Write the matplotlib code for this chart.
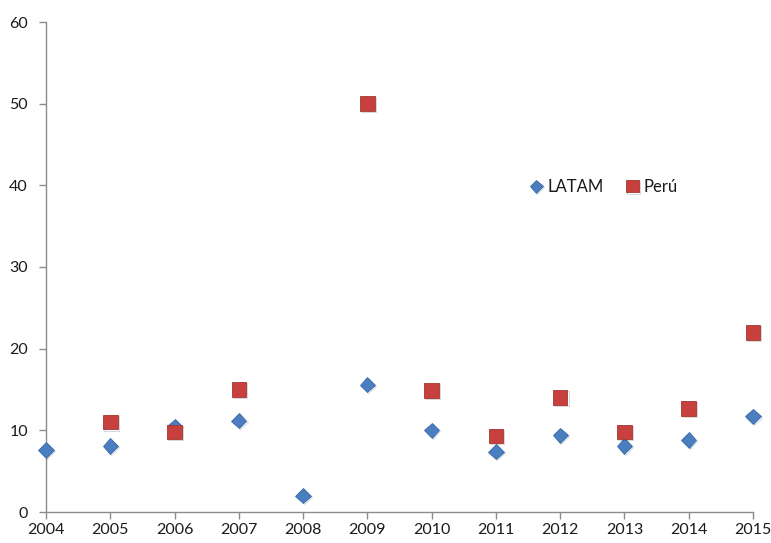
import matplotlib

matplotlib.use("Agg", force=True)
import matplotlib.pyplot as plt
import matplotlib.patheffects as pe

years = [2004, 2005, 2006, 2007, 2008, 2009, 2010, 2011, 2012, 2013, 2014, 2015]
latam = [7.6, 8.1, 10.5, 11.2, 2.0, 15.6, 10.0, 7.4, 9.4, 8.1, 8.8, 11.7]
peru_years = [2005, 2006, 2007, 2009, 2010, 2011, 2012, 2013, 2014, 2015]
peru = [11.0, 9.8, 15.0, 50.0, 14.9, 9.3, 14.0, 9.8, 12.7, 22.0]

plt.rcParams["font.family"] = ["Lato", "DejaVu Sans"]

fig = plt.figure(figsize=(7.71, 5.43), dpi=100)
ax = fig.add_axes([46 / 771, 31 / 543, 707 / 771, 490 / 543])

shadow = [pe.SimpleLineShadow(offset=(0.8, -0.8), alpha=0.18), pe.Normal()]
ax.plot(years, latam, linestyle="none", marker="D", markersize=7.8,
        markerfacecolor="#4A7EC0", markeredgecolor="#3A6BA8", markeredgewidth=0.6,
        label="LATAM", path_effects=shadow, zorder=3, clip_on=False)
ax.plot(peru_years, peru, linestyle="none", marker="s", markersize=10.5,
        markerfacecolor="#C8403D", markeredgecolor="#A33532", markeredgewidth=0.6,
        label="Perú", path_effects=shadow, zorder=3, clip_on=False)

ax.set_xlim(2004, 2015)
ax.set_ylim(0, 60)
ax.set_xticks(years)
ax.set_yticks(range(0, 61, 10))

for side in ("top", "right"):
    ax.spines[side].set_visible(False)
for side in ("left", "bottom"):
    ax.spines[side].set_color("#8C8C8C")
    ax.spines[side].set_linewidth(1.0)
ax.tick_params(axis="both", direction="out", length=5, width=1.0, color="#8C8C8C",
               labelsize=11.5, labelcolor="#1a1a1a")
ax.tick_params(axis="x", pad=3)
ax.tick_params(axis="y", pad=8)

ax.legend(loc="center", bbox_to_anchor=(0.788, 0.663), ncol=2, frameon=False,
          fontsize=12, handletextpad=0.2, columnspacing=1.3, handlelength=0.9,
          markerscale=0.85, labelcolor="#1a1a1a")

fig.savefig("out.png", dpi=100)
